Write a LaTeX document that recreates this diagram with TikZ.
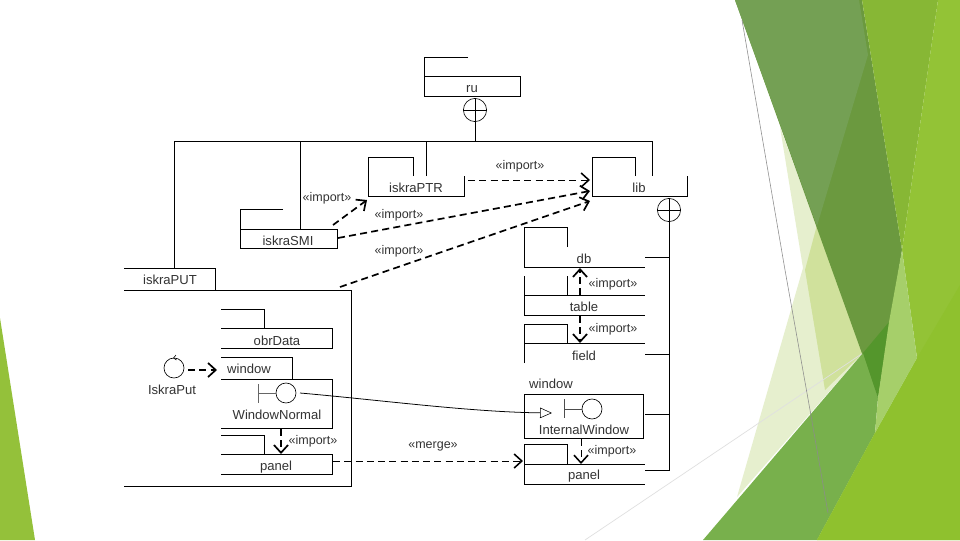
\documentclass[tikz,border=0pt]{standalone}
\usepackage{fontspec}
\setmainfont{Liberation Sans}
\usetikzlibrary{arrows.meta, positioning}
\tikzset{
  pkg/.style = {line width=0.55pt, black},
  txt/.style = {inner sep=0pt, font=\fontsize{9.3}{11}\selectfont, text=black!80},
  stereo/.style = {inner sep=0pt, font=\fontsize{8.9}{11}\selectfont, text=black!80},
  nest/.style = {circle, draw, line width=0.45pt, minimum size=0.58cm, inner sep=0pt},
  iface/.style = {circle, draw, line width=0.45pt, minimum size=0.5cm, inner sep=0pt},
  dep/.style = {line width=0.6pt, dash pattern=on 5pt off 3pt, -{Straight Barb[length=5.5pt,width=10pt,line width=1.1pt]}},
  depbold/.style = {line width=1.2pt, dash pattern=on 5pt off 3pt, -{Straight Barb[length=5.5pt,width=10pt,line width=1.2pt]}},
}
\begin{document}
\begin{tikzpicture}[x=0.025cm, y=-0.025cm]
  \useasboundingbox (0,0) rectangle (960,540);

  % Background
  \fill[white] (0,0) rectangle (960,540);
  \fill[fill={rgb,255:red,230;green,239;blue,206}] (780,127) -- (863,353) -- (737,497) -- (803,268) -- cycle;
  \fill[fill={rgb,255:red,208;green,225;blue,156}] (817,225) -- (863,353) -- (825,390) -- (805,270) -- cycle;
  \draw[black!12!white, line width=0.5pt] (585,540) -- (863,353);
  \fill[fill={rgb,255:red,107;green,153;blue,63}] (735,0) -- (862,0) -- (902,250) -- (878,398) -- cycle;
  \fill[fill={rgb,255:red,116;green,160;blue,84}] (735,0) -- (859,0) -- (868,55) -- (817,226) -- cycle;
  \fill[fill={rgb,255:red,135;green,183;blue,53}] (862,0) -- (938,0) -- (902,250) -- cycle;
  \fill[fill={rgb,255:red,120;green,176;blue,76}] (863,353) -- (878,398) -- (875,433) -- (817,540) -- (703,540) -- cycle;
  \fill[fill={rgb,255:red,84;green,150;blue,44}] (863,353) -- (889,322) -- (878,398) -- cycle;
  \fill[fill={rgb,255:red,147;green,195;blue,54}] (938,0) -- (960,0) -- (960,540) -- (817,540) -- (875,433) -- (917,358) -- (902,250) -- cycle;
  \fill[fill={rgb,255:red,143;green,193;blue,46}] (917,358) -- (960,285) -- (960,540) -- (817,540) -- (875,433) -- cycle;
  \fill[fill={rgb,255:red,166;green,207;blue,106}] (902,250) -- (917,358) -- (875,433) -- (878,398) -- (889,322) -- cycle;
  \fill[fill={rgb,255:red,148;green,193;blue,58}] (0,318) -- (35,540) -- (0,540) -- cycle;
  \draw[black!45!white, line width=0.4pt] (742,20) -- (785,270) -- (810,410) -- (828,513);

  % Upper packages
  \draw[pkg] (468,57) -- (424,57) -- (424,96) -- (520,96) -- (520,76) -- (424,76);
  \node[txt] (ru) at (472,89) {ru};
  \draw[pkg] (413,176) -- (413,157) -- (368,157) -- (368,196) -- (464,196) -- (464,176);
  \node[txt] (iskraPTR) at (416,188) {iskraPTR};
  \draw[pkg] (635,176) -- (635,157) -- (592,157) -- (592,196) -- (687,196) -- (687,176);
  \node[txt] (lib) at (639,188) {lib};
  \draw[pkg] (283,209) -- (240,209) -- (240,248) -- (337,248) -- (337,229) -- (240,229);
  \node[txt] (iskraSMI) at (288,241) {iskraSMI};

  % Containment from ru
  \node[nest] (ruNest) at (475,110) {};
  \draw[line width=0.4pt] (ruNest.west) -- (ruNest.east);
  \draw[line width=0.4pt] (ruNest.north) -- (ruNest.south);
  \coordinate (busMid) at (475,141);
  \coordinate (busPut) at (174,268);
  \coordinate (busSmi) at (300,229);
  \coordinate (busPtr) at (426,176);
  \coordinate (busLib) at (652,176);
  \draw[pkg] (ruNest.south) -- (busMid);
  \draw[pkg] (busPut) |- (busLib |- busMid) -- (busLib);
  \draw[pkg] (busSmi) -- (busSmi |- busMid);
  \draw[pkg] (busPtr) -- (busPtr |- busMid);

  % iskraPUT
  \draw[pkg] (124,268) -- (215,268) -- (215,290);
  \draw[pkg] (124,290) -- (351,290) -- (351,486) -- (124,486);
  \node[txt] (iskraPUT) at (170,280) {iskraPUT};

  \draw[pkg] (221,309) -- (264,309) -- (264,328);
  \draw[pkg] (221,328) -- (332,328) -- (332,348) -- (221,348);
  \node[txt] (obrData) at (277,341) {obrData};

  \draw[pkg] (221,357) -- (292,357) -- (292,379);
  \draw[pkg] (221,379) -- (332,379) -- (332,428) -- (221,428);
  \node[txt] (windowL) at (249,369) {window};
  \node[iface] (normalIcon) at (286,393) {};
  \coordinate (normalBar) at (258,393);
  \draw[line width=0.4pt, black!60] (258,384) -- (258,403);
  \draw[line width=0.4pt, black!60] (normalBar) -- (normalIcon.west);
  \node[txt] (windowNormal) at (277,415) {WindowNormal};

  \draw[pkg] (221,435) -- (264,435) -- (264,454);
  \draw[pkg] (221,454) -- (332,454) -- (332,474) -- (221,474);
  \node[txt] (panelL) at (276,467) {panel};

  \node[iface] (putIcon) at (174,368) {};
  \draw[line width=0.4pt] (176,355) -- (173.5,358) -- (176.5,360);
  \node[txt] (iskraPut) at (172,390) {IskraPut};

  % lib contents
  \draw[pkg] (567,247) -- (567,227) -- (524,227) -- (524,267) -- (645,267);
  \node[txt] (db) at (584,259) {db};
  \draw[pkg] (524,276) -- (524,315) -- (645,315);
  \draw[pkg] (567,276) -- (567,295);
  \draw[pkg] (524,295) -- (645,295);
  \node[txt] (table) at (584,307) {table};
  \draw[pkg] (524,363) -- (524,324) -- (567,324) -- (567,343);
  \draw[pkg] (524,343) -- (645,343);
  \node[txt] (field) at (584,356) {field};
  \node[txt] (windowR) at (551,384) {window};
  \draw[pkg] (524,394) rectangle (643,438);
  \node[iface] (internalIcon) at (592,409) {};
  \coordinate (internalBar) at (564,409);
  \draw[line width=0.7pt, black!70] (564,399) -- (564,418);
  \draw[line width=0.7pt, black!70] (internalBar) -- (internalIcon.west);
  \node[txt] (internalWindow) at (584,430) {InternalWindow};
  \draw[pkg] (567,464) -- (567,444) -- (524,444) -- (524,484) -- (645,484);
  \draw[pkg] (524,464) -- (645,464);
  \node[txt] (panelR) at (584,476) {panel};

  % Containment from lib
  \node[nest] (libNest) at (669,210) {};
  \draw[line width=0.4pt] (libNest.west) -- (libNest.east);
  \draw[line width=0.4pt] (libNest.north) -- (libNest.south);
  \coordinate (libEnd) at (645,470);
  \draw[pkg] (libNest.south) |- (libEnd);
  \draw[pkg] (669,257) -- (645,257);
  \draw[pkg] (669,354) -- (645,354);
  \draw[pkg] (669,414) -- (645,414);

  % Imports
  \coordinate (ptrOut) at (468,180);
  \coordinate (libIn1) at (590,180);
  \coordinate (smiOut1) at (338,238);
  \coordinate (libIn2) at (590,191);
  \coordinate (smiOut2) at (333,225);
  \coordinate (ptrIn) at (367,200);
  \coordinate (putOut) at (340,287);
  \coordinate (libIn3) at (590,201);
  \draw[dep] (ptrOut) -- (libIn1);
  \draw[depbold] (smiOut1) -- (libIn2);
  \draw[depbold] (smiOut2) -- (ptrIn);
  \draw[depbold] (putOut) -- (libIn3);
  \node[stereo] (imp1) at (520,166) {«import»};
  \node[stereo] (imp2) at (327,198) {«import»};
  \node[stereo] (imp3) at (399,215) {«import»};
  \node[stereo] (imp4) at (399,251) {«import»};

  \coordinate (tableTop) at (580,295);
  \coordinate (dbBot) at (580,268);
  \coordinate (tableBot) at (580,316);
  \coordinate (fieldTop) at (580,343);
  \coordinate (winBot) at (581,439);
  \coordinate (panelTop) at (581,464);
  \draw[depbold] (tableTop) -- (dbBot);
  \draw[depbold] (tableBot) -- (fieldTop);
  \draw[dep] (winBot) -- (panelTop);
  \node[stereo] (imp5) at (613,284) {«import»};
  \node[stereo] (imp6) at (613,329) {«import»};
  \node[stereo] (imp7) at (612,451) {«import»};

  \coordinate (normalBot) at (281,429);
  \coordinate (panelIn) at (281,454);
  \draw[depbold] (normalBot) -- (panelIn);
  \node[stereo] (imp8) at (313,441) {«import»};

  % Merge, use, realization
  \coordinate (mergeOut) at (333,461);
  \coordinate (mergeIn) at (523,461);
  \draw[dep] (mergeOut) -- (mergeIn);
  \node[stereo] (merge) at (433,446) {«merge»};
  \coordinate (useIn) at (217,370);
  \coordinate (useOut) at (188,370);
  \draw[depbold] (useOut) -- (useIn);
  \coordinate (realIn) at (552,413);
  \coordinate (realOut) at (300,393);
  \draw[line width=0.55pt, -{Triangle[open,length=8.5pt,width=7.5pt,line width=0.4pt]}] (realOut) .. controls (380,400) and (470,412) .. (realIn);
\end{tikzpicture}
\end{document}
